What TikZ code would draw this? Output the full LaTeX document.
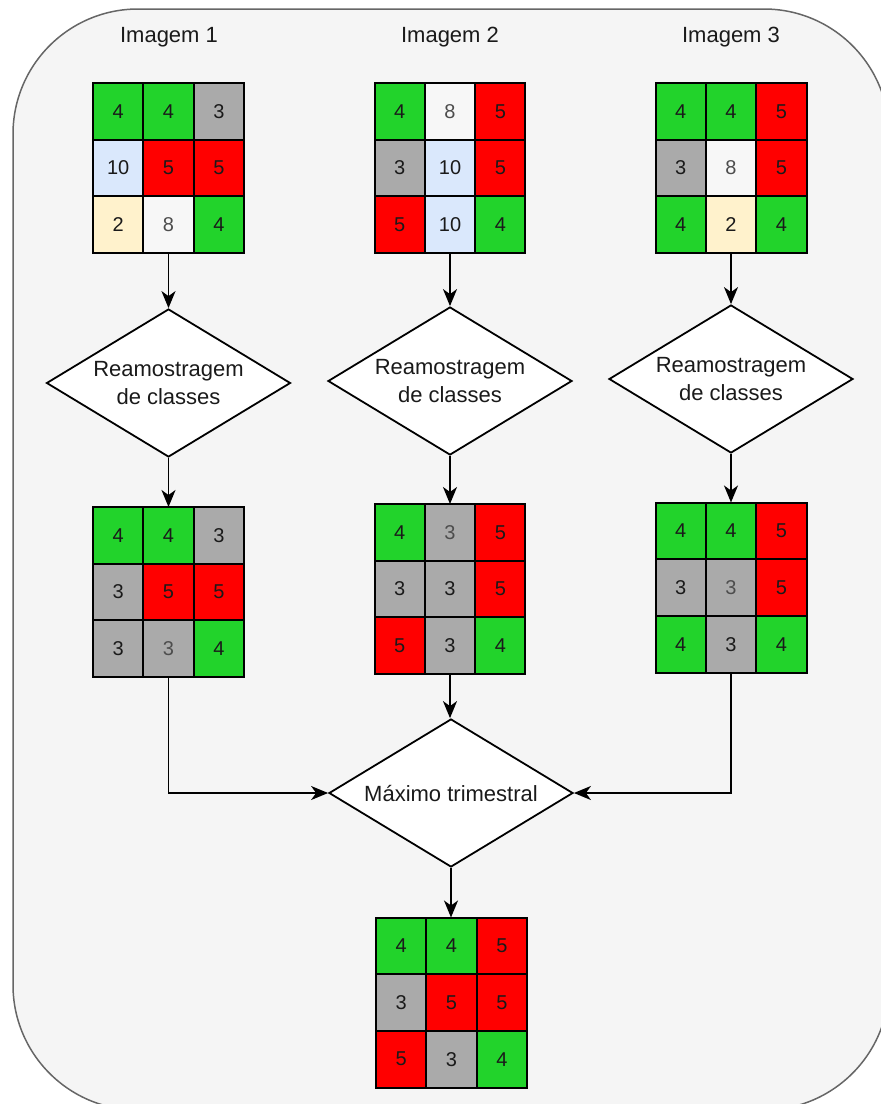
\documentclass[tikz,border=0pt]{standalone}
\usepackage{fontspec}
\setmainfont{Liberation Sans}
\usetikzlibrary{shapes.geometric,arrows.meta,calc}
\definecolor{gC}{HTML}{22D32B}
\definecolor{rC}{HTML}{FF0000}
\definecolor{yC}{HTML}{AAAAAA}
\definecolor{bC}{HTML}{DAE8FC}
\definecolor{cC}{HTML}{FFF2CC}
\definecolor{wC}{HTML}{F7F7F7}
\definecolor{tN}{HTML}{1A1A1A}
\definecolor{tL}{HTML}{4D4D4D}
\definecolor{bgFill}{HTML}{F5F5F5}
\definecolor{bgLine}{HTML}{666666}
\tikzset{
  cell/.style={rectangle,draw=black,line width=2pt,minimum width=50.33pt,minimum height=56.67pt,
    inner sep=0pt,outer sep=0pt,font=\fontsize{20}{24}\selectfont},
  gridbox/.style={rectangle,minimum width=151pt,minimum height=170pt,inner sep=0pt,outer sep=0pt},
  decision/.style={diamond,draw=black,fill=white,line width=1.8pt,minimum width=244pt,minimum height=148pt,
    shape aspect=1.65,inner sep=0pt,align=center,text=tN,font=\fontsize{22}{28}\selectfont},
  title/.style={text=tN,font=\fontsize{22}{26}\selectfont},
  arr/.style={draw=black,line width=1.8pt,-{Stealth[length=17pt,width=14pt,inset=5pt]}},
}
\newcommand\cellgrid[4]{%
  \node[gridbox] (#1) at (#2,#3) {};
  \foreach \cl/\vv/\tc [count=\i from 0] in {#4} {
    \pgfmathtruncatemacro\col{mod(\i,3)}
    \pgfmathtruncatemacro\row{div(\i,3)}
    \node[cell,fill=\cl,text=\tc] (#1-\i) at ($(#1.north west)+(\col*50.33+25.17,\row*56.67+28.33)$) {\vv};
  }
}
\begin{document}
\begin{tikzpicture}[x=1pt,y=-1pt]
\useasboundingbox (0,0) rectangle (881,1104);
\clip (0,0) rectangle (881,1104);
\draw[fill=bgFill,draw=bgLine,line width=1.5pt,rounded corners=125pt] (13,9) rectangle (889,1110);

\node[title] (h1) at (169,37) {Imagem 1};
\node[title] (h2) at (450,37) {Imagem 2};
\node[title] (h3) at (731,37) {Imagem 3};

\cellgrid{t1}{168.5}{168}{gC/4/tN,gC/4/tN,yC/3/tN,bC/10/tN,rC/5/tN,rC/5/tN,cC/2/tN,wC/8/tL,gC/4/tN}
\cellgrid{t2}{450}{168}{gC/4/tN,wC/8/tL,rC/5/tN,yC/3/tN,bC/10/tN,rC/5/tN,rC/5/tN,bC/10/tN,gC/4/tN}
\cellgrid{t3}{731}{168}{gC/4/tN,gC/4/tN,rC/5/tN,yC/3/tN,wC/8/tL,rC/5/tN,gC/4/tN,cC/2/tN,gC/4/tN}

\node[decision] (d1) at (168.5,383) {Reamostragem\\de classes};
\node[decision] (d2) at (450,381) {Reamostragem\\de classes};
\node[decision] (d3) at (731,379) {Reamostragem\\de classes};

\cellgrid{m1}{168.5}{592}{gC/4/tN,gC/4/tN,yC/3/tN,yC/3/tN,rC/5/tN,rC/5/tN,yC/3/tN,yC/3/tL,gC/4/tN}
\cellgrid{m2}{450}{589}{gC/4/tN,yC/3/tL,rC/5/tN,yC/3/tN,yC/3/tN,rC/5/tN,rC/5/tN,yC/3/tN,gC/4/tN}
\cellgrid{m3}{731}{587.5}{gC/4/tN,gC/4/tN,rC/5/tN,yC/3/tN,yC/3/tL,rC/5/tN,gC/4/tN,yC/3/tN,gC/4/tN}

\node[decision] (dm) at (451,793) {Máximo trimestral};

\cellgrid{f}{451.5}{1002.5}{gC/4/tN,gC/4/tN,rC/5/tN,yC/3/tN,rC/5/tN,rC/5/tN,rC/5/tN,yC/3/tN,gC/4/tN}

\draw[arr] (t1.south) -- (d1.north);
\draw[arr] (t2.south) -- (d2.north);
\draw[arr] (t3.south) -- (d3.north);
\draw[arr] (d1.south) -- (m1.north);
\draw[arr] (d2.south) -- (m2.north);
\draw[arr] (d3.south) -- (m3.north);
\draw[arr] (m1.south) |- (dm.west);
\draw[arr] (m3.south) |- (dm.east);
\draw[arr] (m2.south) -- (m2.south |- dm.north);
\draw[arr] (dm.south) -- (dm.south |- f.north);
\end{tikzpicture}
\end{document}
